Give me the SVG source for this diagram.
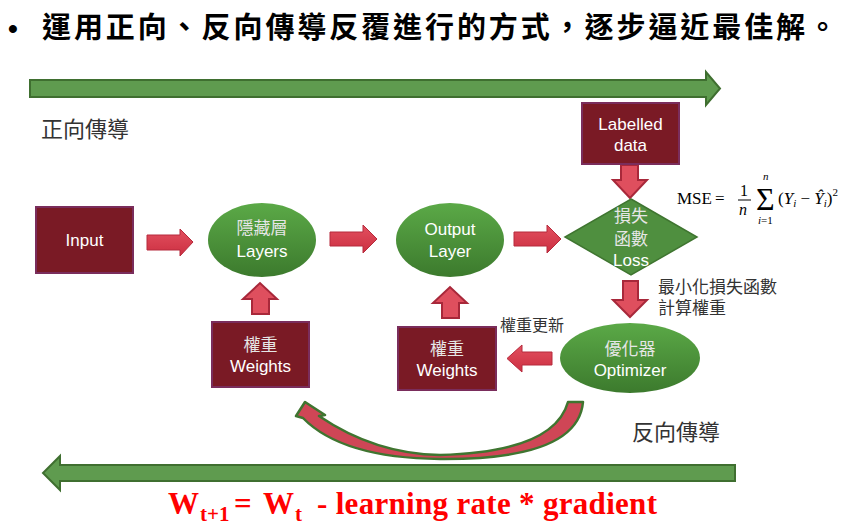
<svg xmlns="http://www.w3.org/2000/svg" width="858" height="529" viewBox="0 0 858 529">
<defs>
<linearGradient id="gEll" x1="0" y1="0" x2="0" y2="1">
<stop offset="0" stop-color="#5ba947"/>
<stop offset="1" stop-color="#3c7a2d"/>
</linearGradient>
<linearGradient id="gRed" x1="0" y1="0" x2="0" y2="1">
<stop offset="0" stop-color="#e2505f"/>
<stop offset="1" stop-color="#cc2f41"/>
</linearGradient>
<style>
.box{fill:#7a1a25;stroke:#7a2d5c;stroke-width:2}
.ell{fill:url(#gEll)}
.dia{fill:#4f8f3f;stroke:#3f7530;stroke-width:1.5}
.red{fill:url(#gRed);stroke:#b62a3c;stroke-width:1}
.redup{fill:#df4f5e;stroke:#a8283a;stroke-width:2}
.big{fill:#5f9b4f;stroke:#3f6f30;stroke-width:2}
.en{font-family:"Liberation Sans",Arial,sans-serif;font-size:17px;fill:#ffffff;text-anchor:middle}
.zh{font-family:"Noto Sans CJK TC","Noto Sans CJK SC",sans-serif;font-size:17px;fill:#e6e6e6;text-anchor:middle}
.lbl{font-family:"Noto Sans CJK TC","Noto Sans CJK SC",sans-serif;fill:#333333}
.mse{font-family:"Liberation Serif","Times New Roman",serif;fill:#000000}
.fm{font-family:"Liberation Serif","Times New Roman",serif;font-weight:bold;fill:#ff0000}
</style>
</defs>
<rect width="858" height="529" fill="#ffffff"/>

<g id="title">
<text x="8" y="38" font-family="Liberation Sans,sans-serif" font-size="28" font-weight="bold" fill="#000">•</text>
<text x="42" y="38" font-family="'Noto Sans CJK TC','Noto Sans CJK SC',sans-serif" font-size="29" font-weight="bold" fill="#000" textLength="795" lengthAdjust="spacing">運用正向、反向傳導反覆進行的方式，逐步逼近最佳解。</text>
</g>

<g id="forward-arrow">
<path class="big" d="M30,80 H706 V72 L720,88.5 L706,105 V97 H30 Z"/>
<text class="lbl" x="41" y="137" font-size="22">正向傳導</text>
</g>

<g id="connectors">
<path class="red" d="M147,235 H180 V229 L193,242 L180,256 V250 H147 Z"/>
<path class="red" d="M330,232 H363 V225 L377,239 L363,253 V246 H330 Z"/>
<path class="red" d="M514,232 H547 V225 L561,239 L547,253 V246 H514 Z"/>
<path class="redup" d="M621,165 V180 H613 L630,198 L647,180 H638 V165 Z"/>
<path class="redup" d="M623,281 V300 H613 L630,317 L647,300 H638 V281 Z"/>
<path class="red" d="M552,352 H522 V345 L507,358.5 L522,372 V365 H552 Z"/>
<path class="redup" d="M252,314 V299 H243 L260,283 L277,299 H269 V314 Z"/>
<path class="redup" d="M442,318 V303 H433 L450,287 L467,303 H459 V318 Z"/>
<path d="M305,402 L325,415 L319,416 Q375,454 440,455 Q554,452 568,402 L583,402 Q578,460 440,459 Q342,458 303,418 L296,416 Z" fill="#cf4656" stroke="#3f7530" stroke-width="2.5" stroke-linejoin="round"/>
</g>

<g id="input">
<rect class="box" x="36" y="207" width="97" height="66"/>
<text class="en" x="84.5" y="246">Input</text>
</g>

<g id="hidden">
<ellipse class="ell" cx="262" cy="240" rx="54" ry="37"/>
<text class="zh" x="262" y="234">隱藏層</text>
<text class="en" x="262" y="257">Layers</text>
</g>

<g id="output">
<ellipse class="ell" cx="450" cy="240" rx="54" ry="37"/>
<text class="en" x="450" y="235">Output</text>
<text class="en" x="450" y="257">Layer</text>
</g>

<g id="labelled">
<rect class="box" x="582" y="103" width="97" height="61"/>
<text class="en" x="630.5" y="130">Labelled</text>
<text class="en" x="630.5" y="151">data</text>
</g>

<g id="loss">
<path class="dia" d="M631,199 L697,237 L631,275 L565,237 Z"/>
<text class="zh" x="631" y="222">損失</text>
<text class="zh" x="631" y="245">函數</text>
<text class="en" x="631" y="266" fill="#e6e6e6">Loss</text>
</g>

<g id="mse">
<text class="mse" x="677" y="204" font-size="17">MSE</text>
<text class="mse" x="715" y="204" font-size="17">=</text>
<text class="mse" x="740" y="196" font-size="16">1</text>
<line x1="738" y1="200" x2="751" y2="200" stroke="#000" stroke-width="1"/>
<text class="mse" x="739" y="215" font-size="16" font-style="italic">n</text>
<text class="mse" x="756" y="210" font-size="32">Σ</text>
<text class="mse" x="763" y="180" font-size="11" font-style="italic">n</text>
<text class="mse" x="758" y="224" font-size="11"><tspan font-style="italic">i</tspan>=1</text>
<text class="mse" x="778" y="204" font-size="17">(<tspan font-style="italic">Y</tspan><tspan font-style="italic" font-size="11" dy="3">i</tspan><tspan dy="-3"> − </tspan><tspan font-style="italic">Ŷ</tspan><tspan font-style="italic" font-size="11" dy="3">i</tspan><tspan dy="-3">)</tspan><tspan font-size="11" dy="-8">2</tspan></text>
</g>

<text class="lbl" x="658" y="293" font-size="17">最小化損失函數</text>
<text class="lbl" x="658" y="314" font-size="17">計算權重</text>

<g id="optimizer">
<ellipse class="ell" cx="630" cy="358" rx="70" ry="35"/>
<text class="zh" x="630" y="355">優化器</text>
<text class="en" x="630" y="376">Optimizer</text>
</g>

<text class="lbl" x="500" y="331" font-size="16">權重更新</text>

<g id="weights2">
<rect class="box" x="398" y="327" width="98" height="63"/>
<text class="zh" x="447" y="355">權重</text>
<text class="en" x="447" y="376">Weights</text>
</g>

<g id="weights1">
<rect class="box" x="212" y="322" width="97" height="65"/>
<text class="zh" x="260.5" y="351">權重</text>
<text class="en" x="260.5" y="372">Weights</text>
</g>

<g id="backward-arrow">
<path class="big" d="M735,465 H60 V456 L43,473 L60,490 V481 H735 Z"/>
<text class="lbl" x="632" y="440" font-size="22">反向傳導</text>
</g>

<g id="formula">
<text class="fm" x="168" y="514" font-size="31">W</text>
<text class="fm" x="200" y="521" font-size="21">t+1</text>
<text class="fm" x="234" y="514" font-size="31">=</text>
<text class="fm" x="263" y="514" font-size="31">W</text>
<text class="fm" x="295" y="521" font-size="21">t</text>
<text class="fm" x="317" y="514" font-size="31" textLength="340" lengthAdjust="spacing">- learning rate * gradient</text>
</g>
</svg>
